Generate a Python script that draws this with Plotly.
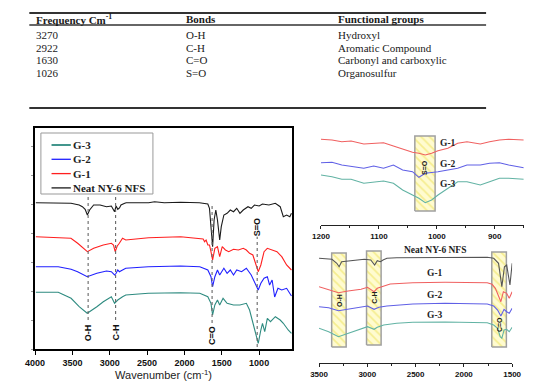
import plotly.graph_objects as go

W, H = 554, 388

# ---------------- table data ----------------
table_headers = ["Frequency Cm<sup>-1</sup>", "Bonds", "Functional groups"]
table_freq = ["3270", "2922", "1630", "1026"]
table_bonds = ["O-H", "C-H", "C=O", "S=O"]
table_groups = ["Hydroxyl", "Aromatic Compound", "Carbonyl and carboxylic", "Organosulfur"]

# ---------------- series names / colours ----------------
series_names = ["Neat NY-6 NFS", "G-1", "G-2", "G-3"]
main_colors = ["#1a1a1a", "#ff1f1f", "#2020ff", "#2e8b80"]
inset_colors = ["#555555", "#f06060", "#6060e6", "#62b3a4"]

# ---------------- main spectra (wavenumber, transmittance a.u.) ----------------
neat_wn = [3990, 3690, 3520, 3410, 3367, 3330, 3300, 3270, 3216, 3130, 3044, 2979, 2936, 2915, 2893, 2870,
           2850, 2800, 2780, 2480, 2400, 2270, 2050, 1800, 1750, 1700, 1687, 1665, 1645, 1623, 1603, 1580,
           1558, 1528, 1507, 1472, 1429, 1386, 1343, 1300, 1257, 1213, 1149, 1106, 1063, 1000, 955, 869,
           783, 718, 676, 632, 589, 567]
neat_t = [146.3, 145.7, 145.7, 144, 142.3, 139.7, 134, 139, 144, 144, 142.3, 143, 137.3, 143, 139.7, 141,
          144, 145.7, 146.3, 146.3, 147.3, 146.3, 146.7, 146.3, 145.7, 145.5, 145, 140.7, 125.7, 102.3, 129, 139,
          129, 109, 122.3, 134, 135.7, 139, 137.3, 140.7, 135.7, 139, 142.3, 140.7, 144, 143, 145, 144,
          145.7, 142.3, 132.3, 134, 132.3, 135.7]

g1_wn = [3990, 3690, 3520, 3430, 3367, 3300, 3216, 3087, 2979, 2950, 2928, 2900, 2872, 2829, 2786, 2480,
         2050, 1795, 1750, 1730, 1710, 1687, 1665, 1645, 1623, 1593, 1558, 1528, 1494, 1451, 1407, 1343,
         1278, 1213, 1171, 1128, 1084, 1041, 1012, 977, 934, 890, 826, 761, 697, 632, 567]
g1_t = [112.3, 111.7, 110.7, 105.7, 101.7, 97.3, 100.7, 104, 105.7, 104, 97.3, 103, 105.7, 110.7, 109, 111.3,
        112.3, 110.7, 110, 107.3, 109, 104, 104, 97.3, 89, 100.7, 102.3, 92.3, 102.3, 99, 97.3, 99.7,
        99, 100.7, 99, 95.7, 94, 84, 77.3, 84, 97.3, 100.7, 99, 97.3, 92.3, 84, 79]

g2_wn = [3990, 3690, 3518, 3431, 3302, 3173, 3044, 2979, 2936, 2915, 2893, 2872, 2829, 2786, 2484, 2269,
         2053, 1795, 1730, 1687, 1645, 1623, 1593, 1558, 1528, 1472, 1429, 1386, 1343, 1300, 1235, 1171,
         1106, 1063, 1012, 977, 934, 890, 860, 826, 792, 748, 697, 632, 567]
g2_t = [82.3, 82.3, 79.7, 77.3, 72.3, 75.7, 78, 77.3, 74, 75.7, 79, 77.3, 79, 80.7, 82.3, 83,
        83, 82.3, 80.7, 79, 72.3, 62.3, 72.3, 79, 74, 80.7, 75.7, 79, 74, 79, 77.3, 80.7,
        74, 67.3, 59, 65.7, 70.7, 72.3, 64, 69, 52, 60.7, 59, 60.7, 53]

g3_wn = [3990, 3690, 3518, 3410, 3302, 3216, 3173, 3087, 2979, 2936, 2893, 2829, 2786, 2484, 2269, 2053,
         1795, 1730, 1687, 1645, 1623, 1593, 1558, 1528, 1483, 1429, 1343, 1257, 1171, 1128, 1084, 1041,
         1012, 977, 955, 925, 890, 848, 783, 718, 676, 611, 567]
g3_t = [56.7, 56.7, 50.7, 42.3, 35.7, 39.7, 42.3, 47.3, 52.3, 45.7, 49, 52.3, 54, 55.7, 56.3, 56.3,
        55.7, 54, 52.3, 45.7, 34, 44, 49, 44, 50.7, 45.7, 44, 44, 45.7, 39, 25.7, 15.7,
        5.7, 19, 25.7, 17.3, 30.7, 27.3, 32.3, 29, 25.7, 19, 15.7]

# peak markers in main plot
peak_wn = [3290, 2922, 1630, 1026]
peak_labels = ["O-H", "C-H", "C=O", "S=O"]

# ---------------- top inset (1200-850 cm-1) ----------------
top_wn = [1200, 1181, 1164, 1148, 1126, 1109, 1092, 1075, 1059, 1042, 1031, 1020, 1009, 998, 981, 964,
          948, 925, 909, 892, 876, 850]
top_g1 = [85.7, 85, 83.3, 84, 81, 81.7, 82.3, 79, 75.7, 72.7, 71.7, 70, 71.7, 74.3, 76.7, 81.7,
          83.3, 81, 83.3, 85, 85.7, 85]
top_g2 = [62.3, 62.7, 60, 58.3, 56.7, 59, 56.7, 60, 55, 53.3, 47.7, 51.7, 52.3, 53.3, 55, 56.7,
          60, 60, 61.7, 62.3, 60, 57.3]
top_g3 = [50, 48.3, 45.7, 45.7, 41.7, 42.7, 44, 41.7, 35, 30, 26.7, 22.3, 25, 30, 36.7, 43.3,
          43.3, 40, 43.3, 46.7, 46.7, 45.7]

# ---------------- bottom inset (3500-1500 cm-1) ----------------
bot_neat_wn = [3500, 3366, 3316, 3292, 3266, 3165, 3081, 3031, 2964, 2924, 2897, 2864, 2837, 2797, 2696,
               2361, 2026, 1758, 1691, 1641, 1607, 1580, 1557, 1523, 1500]
bot_neat = [104.7, 103.7, 99.7, 96.3, 101.3, 102.3, 103, 103.7, 103, 98, 102.3, 101.3, 103, 104.7, 105.3,
            105.7, 105.7, 105.7, 104.7, 99.7, 76.3, 96.3, 98, 78, 99.7]
bot_g1_wn = [3500, 3400, 3299, 3199, 3065, 2998, 2930, 2897, 2847, 2763, 2528, 2194, 1758, 1708, 1674,
             1641, 1617, 1591, 1557, 1530, 1500]
bot_g1 = [76.3, 73.7, 70.3, 72, 73.7, 75.7, 71.3, 74.7, 76.3, 79, 80.3, 80.7, 80.3, 78.7, 74.7,
          66.3, 61.3, 71.3, 69.7, 64.7, 71.3]
bot_g2_wn = [3500, 3400, 3299, 3199, 3031, 2998, 2930, 2880, 2797, 2528, 2194, 1758, 1691, 1651, 1617,
             1584, 1557, 1530, 1500]
bot_g2 = [56.3, 55.3, 52.3, 53.7, 56.3, 57, 53.7, 55.7, 57, 59, 59.7, 59, 57, 53, 47,
          53.7, 51.3, 49.7, 54.7]
bot_g3_wn = [3500, 3400, 3299, 3199, 3065, 2998, 2930, 2897, 2830, 2696, 2528, 2194, 1758, 1691, 1651,
             1624, 1607, 1584, 1557, 1530, 1500]
bot_g3 = [34.7, 31.3, 26.3, 29.7, 34.7, 36.3, 33.7, 35.7, 38, 39.7, 40.7, 41, 40.3, 38, 34.7,
          26.3, 24.7, 33, 33.7, 31.3, 35.7]

# highlighted bands (wavenumber ranges)
top_band = [1038, 1003]
bot_bands = [[3369, 3219], [3008, 2857], [1711, 1560]]
bot_band_labels = ["O-H", "C-H", "C=O"]

SERIF = "Liberation Serif"
SANS = "Liberation Sans"


def px(x):
    return x / W


def py(y):
    return 1 - y / H


fig = go.Figure()


# ---------------- hatched bands (drawn first, behind lines) ----------------
def band(xa, ya, x0, x1, y0, y1):
    fig.add_trace(go.Scatter(
        x=[x0, x1, x1, x0, x0], y=[y0, y0, y1, y1, y0], xaxis=xa, yaxis=ya,
        mode="lines", fill="toself", showlegend=False, hoverinfo="skip",
        line=dict(color="#a0a0a0", width=1.5),
        fillcolor="#fffbd0",
        fillpattern=dict(shape="\\", fgcolor="#ece050", bgcolor="#fffbd0", size=6, solidity=0.3),
    ))


band("x2", "y2", top_band[0], top_band[1], 14, 89)
for (a, b), y0, y1 in zip(bot_bands, [16, 18, 16], [110, 112, 111]):
    band("x3", "y3", a, b, y0, y1)

# ---------------- main traces ----------------
main_wn = [neat_wn, g1_wn, g2_wn, g3_wn]
main_t = [neat_t, g1_t, g2_t, g3_t]
for name, c, xs, ys in zip(series_names, main_colors, main_wn, main_t):
    fig.add_trace(go.Scatter(x=xs, y=ys, mode="lines", name=name, showlegend=False,
                             line=dict(color=c, width=1.1), xaxis="x", yaxis="y"))

# ---------------- top inset traces ----------------
for name, c, ys in zip(series_names[1:], inset_colors[1:], [top_g1, top_g2, top_g3]):
    fig.add_trace(go.Scatter(x=top_wn, y=ys, mode="lines", name=name, showlegend=False,
                             line=dict(color=c, width=1.1), xaxis="x2", yaxis="y2"))

# ---------------- bottom inset traces ----------------
bot_wn = [bot_neat_wn, bot_g1_wn, bot_g2_wn, bot_g3_wn]
bot_v = [bot_neat, bot_g1, bot_g2, bot_g3]
for name, c, xs, ys in zip(series_names, inset_colors, bot_wn, bot_v):
    fig.add_trace(go.Scatter(x=xs, y=ys, mode="lines", name=name, showlegend=False,
                             line=dict(color=c, width=1.1), xaxis="x3", yaxis="y3"))

shapes = []
annotations = []

# ---------------- table ----------------
for y, w in [(13, 2), (25, 1.6), (108, 2)]:
    shapes.append(dict(type="line", xref="paper", yref="paper", x0=px(20), x1=px(493), y0=py(y), y1=py(y),
                       line=dict(color="#333333", width=w)))
col_x = [25, 180, 338]
for cx, htxt in zip(col_x, table_headers):
    annotations.append(dict(xref="paper", yref="paper", x=px(cx), y=py(19), text="<b>" + htxt + "</b>",
                            showarrow=False, xanchor="left", yanchor="middle",
                            font=dict(family=SERIF, size=11, color="#1a1a1a")))
row_y = [35, 47.5, 60, 73]
for ry, a, b, c in zip(row_y, table_freq, table_bonds, table_groups):
    for cx, t in zip(col_x, [a, b, c]):
        annotations.append(dict(xref="paper", yref="paper", x=px(cx), y=py(ry), text=t, showarrow=False,
                                xanchor="left", yanchor="middle",
                                font=dict(family=SERIF, size=11, color="#1a1a1a")))

# ---------------- main: peak dotted lines and labels ----------------
line_ranges = [(29, 152), (29, 152), (26, 146), (2, 116)]
label_y = [16, 16, 13, 122]
for wn, lab, (y0, y1), ly in zip(peak_wn, peak_labels, line_ranges, label_y):
    shapes.append(dict(type="line", xref="x", yref="y", x0=wn, x1=wn, y0=y0, y1=y1,
                       line=dict(color="#666666", width=1.1, dash="dot")))
    annotations.append(dict(xref="x", yref="y", x=wn, y=ly, text="<b>" + lab + "</b>", textangle=-90,
                            showarrow=False, bgcolor="white", borderpad=0,
                            font=dict(family=SANS, size=9, color="#111111")))

# ---------------- main: legend (custom) ----------------
shapes.append(dict(type="rect", xref="paper", yref="paper", x0=px(32), x1=px(148), y0=py(194), y1=py(133),
                   line=dict(color="#999999", width=1), fillcolor="white", layer="above"))
legend_order = [3, 2, 1, 0]
for i, k in enumerate(legend_order):
    yy = 145 + i * 14.3
    shapes.append(dict(type="line", xref="paper", yref="paper", x0=px(43), x1=px(63), y0=py(yy), y1=py(yy),
                       line=dict(color=main_colors[k], width=1.3 if k != 3 else 1.8), layer="above"))
    annotations.append(dict(xref="paper", yref="paper", x=px(63), y=py(yy), text="<b>" + series_names[k] + "</b>",
                            showarrow=False, xanchor="left", yanchor="middle",
                            font=dict(family=SERIF, size=11, color="#222222")))

# ---------------- top inset labels ----------------
for name, yv in zip(series_names[1:], [82, 61, 41]):
    annotations.append(dict(xref="x2", yref="y2", x=998, y=yv, text="<b>" + name + "</b>", showarrow=False,
                            xanchor="left", yanchor="middle", font=dict(family=SERIF, size=9.5, color="#222222")))
annotations.append(dict(xref="x2", yref="y2", x=(top_band[0] + top_band[1]) / 2, y=58, text="<b>S=O</b>",
                        textangle=-90, showarrow=False, font=dict(family=SANS, size=7, color="#222222")))

# ---------------- bottom inset labels ----------------
for name, yv in zip(series_names, [113, 90, 68, 48]):
    annotations.append(dict(xref="x3", yref="y3", x=2300, y=yv, text="<b>" + name + "</b>", showarrow=False,
                            xanchor="center", yanchor="middle", font=dict(family=SERIF, size=9.5, color="#222222")))
for (a, b), lab, yv in zip(bot_bands, bot_band_labels, [63, 65, 38]):
    annotations.append(dict(xref="x3", yref="y3", x=(a + b) / 2, y=yv, text="<b>" + lab + "</b>",
                            textangle=-90, showarrow=False, font=dict(family=SANS, size=7, color="#222222")))

fig.update_layout(
    width=W, height=H, margin=dict(l=0, r=0, t=0, b=0),
    paper_bgcolor="white", plot_bgcolor="white", showlegend=False,
    shapes=shapes, annotations=annotations,
    xaxis=dict(domain=[px(26), px(292)], range=[4000, 560], anchor="y",
               tickvals=[4000, 3500, 3000, 2500, 2000, 1500, 1000],
               showline=True, mirror=True, linecolor="black", linewidth=1.5,
               ticks="outside", ticklen=4, tickwidth=1, tickcolor="black", showgrid=False, zeroline=False,
               tickfont=dict(family=SANS, size=9, color="#111111", weight="bold"),
               title=dict(text="Wavenumber (cm<sup>-1</sup>)", standoff=3,
                          font=dict(family=SANS, size=11, color="#222222"))),
    yaxis=dict(domain=[py(349), py(128)], range=[0, 221], anchor="x",
               showline=True, mirror=True, linecolor="black", linewidth=1.5,
               ticks="outside", ticklen=2, tickcolor="#999999", dtick=29, showticklabels=False,
               showgrid=False, zeroline=False),
    xaxis2=dict(domain=[px(322), px(532)], range=[1200, 850], anchor="y2",
                tickvals=[1200, 1100, 1000, 900], showline=True, linecolor="#222222", linewidth=1.3,
                ticks="outside", ticklen=3, tickcolor="#222222", showgrid=False, zeroline=False,
                minor=dict(dtick=50, ticks="outside", ticklen=2, tickcolor="#222222"),
                tickfont=dict(family=SANS, size=8, color="#111111", weight="bold")),
    yaxis2=dict(domain=[py(225), py(130)], range=[0, 95], anchor="x2", visible=False),
    xaxis3=dict(domain=[px(320), px(520)], range=[3500, 1500], anchor="y3",
                tickvals=[3500, 3000, 2500, 2000, 1500], showline=True, linecolor="#222222", linewidth=1.3,
                ticks="outside", ticklen=3, tickcolor="#222222", showgrid=False, zeroline=False,
                minor=dict(dtick=250, ticks="outside", ticklen=2, tickcolor="#222222"),
                tickfont=dict(family=SANS, size=8, color="#111111", weight="bold")),
    yaxis3=dict(domain=[py(363), py(240)], range=[0, 123], anchor="x3", visible=False),
)

fig.write_html("out.html", config={"displayModeBar": False},
               post_script="document.body.style.margin='0px';document.body.style.overflow='hidden';")
